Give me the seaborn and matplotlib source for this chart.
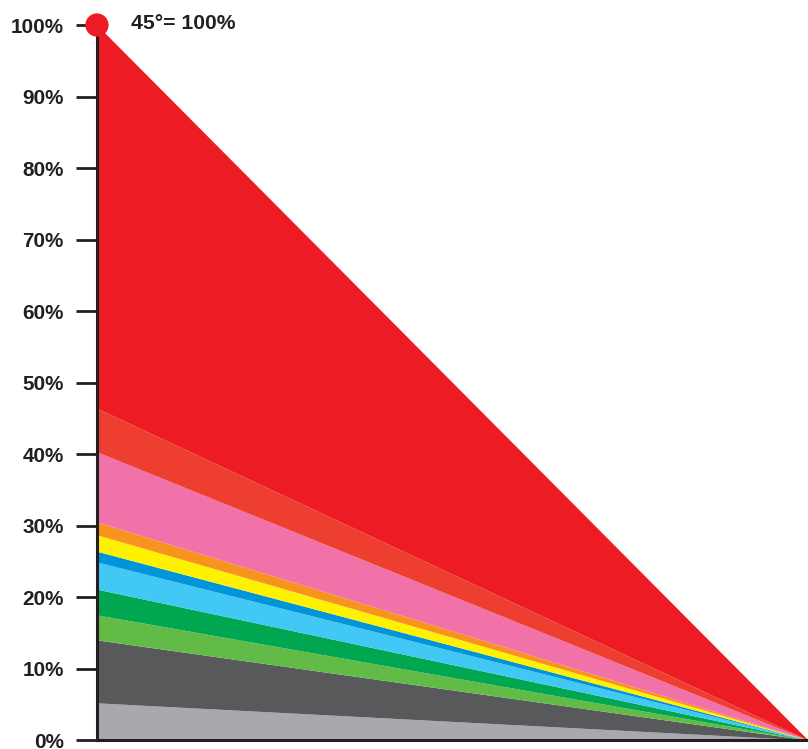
import numpy as np
import pandas as pd
import seaborn as sns
import matplotlib.pyplot as plt

# band shares at the left edge (bottom to top), in percent; all bands close to 0 at the right
bands = ["light grey", "dark grey", "light green", "green", "light blue",
         "blue", "yellow", "orange", "pink", "orange red", "red"]
start_share = [5.2, 8.8, 3.5, 3.6, 3.8, 1.5, 2.3, 1.8, 9.8, 6.1, 53.6]
end_share = [0, 0, 0, 0, 0, 0, 0, 0, 0, 0, 0]
band_colors = ["#a7a9ac", "#58595b", "#62bb46", "#00a650", "#42c8f4",
               "#0095da", "#fff200", "#f7941d", "#f172a9", "#ee3e2f", "#ed1c24"]
x_pos = [0, 1]
y_ticks = [0, 10, 20, 30, 40, 50, 60, 70, 80, 90, 100]
y_tick_labels = [f"{t}%" for t in y_ticks]
peak_label = "45°= 100%"


def main():
    sns.set_style("white")
    plt.rcParams['font.family'] = ['Liberation Sans', 'DejaVu Sans']
    text_col = "#231f20"

    df = pd.DataFrame({"band": bands, "start": start_share, "end": end_share})

    fig = plt.figure(figsize=(8.08, 7.49), dpi=100)
    ax = fig.add_axes([0.120, 0.012, 0.880, 0.9546])

    ax.stackplot(x_pos, df[["start", "end"]].to_numpy(), colors=band_colors,
                 linewidth=0, antialiased=True)

    # marker at the top of the stack
    top = pd.DataFrame({"x": [x_pos[0]], "y": [sum(start_share)]})
    sns.scatterplot(data=top, x="x", y="y", ax=ax, s=280, color="#ed1c24",
                    edgecolor="none", clip_on=False, zorder=8, legend=False)
    ax.annotate(peak_label, xy=(x_pos[0], sum(start_share)), xytext=(34, 2),
                textcoords="offset pixels", ha="left", va="center",
                fontsize=15.2, fontweight="bold", color=text_col)

    ax.set_xlim(0, 1)
    ax.set_ylim(0, 100)
    ax.set_yticks(y_ticks)
    ax.set_yticklabels(y_tick_labels, fontsize=14.9, fontweight="bold", color=text_col)
    ax.set_xticks([])
    ax.set_xlabel("")
    ax.set_ylabel("")
    ax.tick_params(axis='y', which='major', length=15, width=2, color=text_col,
                   pad=9, left=True, direction='out')

    sns.despine(ax=ax, top=True, right=True)
    for side in ["left", "bottom"]:
        ax.spines[side].set_color(text_col)
        ax.spines[side].set_linewidth(2.2)
        ax.spines[side].set_zorder(6)

    fig.savefig("out.png", dpi=100)


if __name__ == "__main__":
    main()
